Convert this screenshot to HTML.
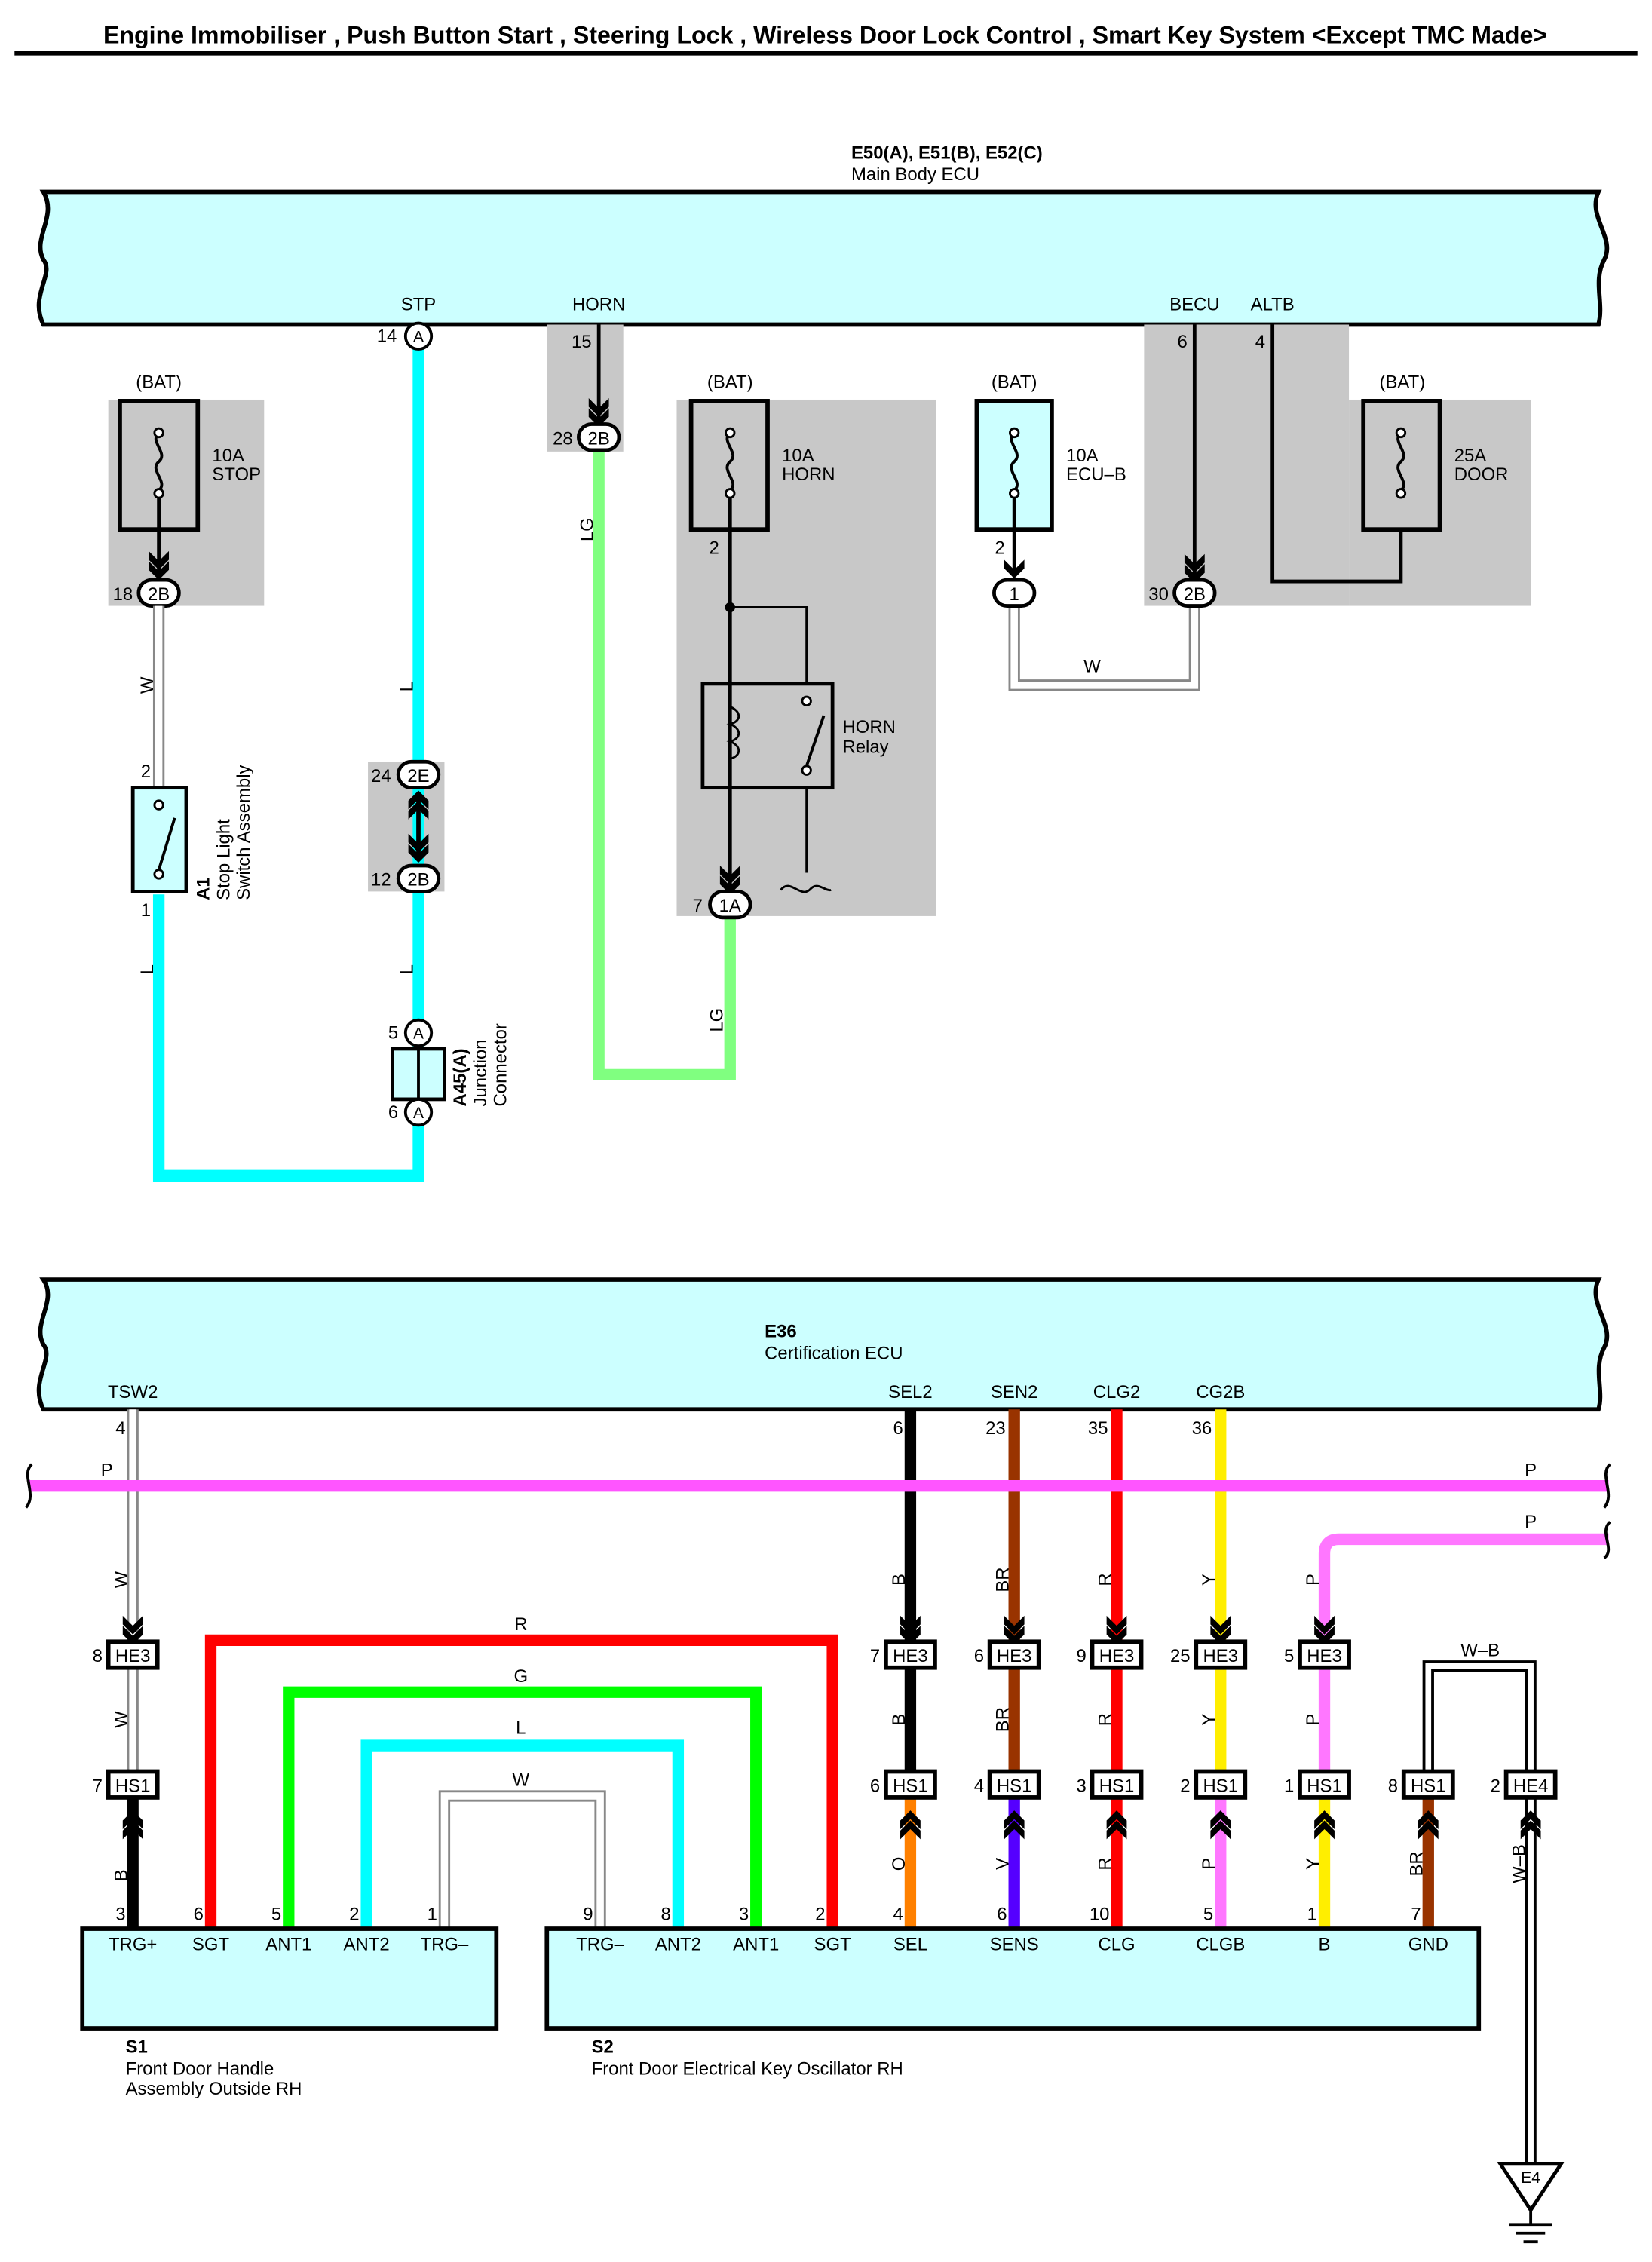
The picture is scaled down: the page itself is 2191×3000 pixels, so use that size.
<!DOCTYPE html>
<html><head><meta charset="utf-8"><style>
html,body{margin:0;padding:0;background:#fff}
svg{display:block}
text{font-family:"Liberation Sans",Arial,sans-serif;font-size:12.5px;fill:#000}
.b{font-weight:bold}
.c{text-anchor:middle}
.r{text-anchor:end}
</style></head><body>
<svg width="2191" height="3000" viewBox="0 0 1145 1568" xmlns="http://www.w3.org/2000/svg">
<defs>
<g id="chev"><path d="M-7,-12 L0,-5 L7,-12 L7,-6 L0,1 L-7,-6Z" fill="#000"/></g>
<g id="chev2"><path d="M-7,-16 L0,-9 L7,-16 L7,-10 L0,-3 L-7,-10Z M-7,-9 L0,-2 L7,-9 L7,-3 L0,4 L-7,-3Z" fill="#000"/></g>
<g id="chevup2"><path d="M-7,16 L0,9 L7,16 L7,10 L0,3 L-7,10Z M-7,9 L0,2 L7,9 L7,3 L0,-4 L-7,3Z" fill="#000"/></g>
<g id="fuse"><path d="M0,-22 C-7,-16 7,-8 0,-2 C-7,4 7,12 0,18" fill="none" stroke="#000" stroke-width="2"/><circle cx="0" cy="-22" r="3" fill="#fff" stroke="#000" stroke-width="1.5"/><circle cx="0" cy="20" r="3" fill="#fff" stroke="#000" stroke-width="1.5"/></g>
</defs>
<rect width="1145" height="1568" fill="#fff"/>
<text x="572" y="30" class="b c" style="font-size:16.8px">Engine Immobiliser , Push Button Start , Steering Lock , Wireless Door Lock Control , Smart Key System &lt;Except TMC Made&gt;</text>
<line x1="10" y1="37" x2="1135" y2="37" stroke="#000" stroke-width="3"/>

<text x="590" y="110" class="b">E50(A), E51(B), E52(C)</text>
<text x="590" y="125">Main Body ECU</text>
<path d="M30,133 L1108,133 C1100,150 1120,165 1112,180 C1104,195 1112,210 1108,225 L30,225 C20,205 38,190 30,180 C22,165 40,150 30,133Z" fill="#ccffff" stroke="#000" stroke-width="3"/>
<text x="290" y="215" class="c">STP</text>
<text x="415" y="215" class="c">HORN</text>
<text x="828" y="215" class="c">BECU</text>
<text x="882" y="215" class="c">ALTB</text>

<rect x="75" y="277" width="108" height="143" fill="#c8c8c8"/>
<rect x="255" y="528" width="53" height="90" fill="#c8c8c8"/>
<rect x="379" y="225" width="53" height="88" fill="#c8c8c8"/>
<rect x="469" y="277" width="180" height="358" fill="#c8c8c8"/>
<rect x="793" y="225" width="142" height="195" fill="#c8c8c8"/>
<rect x="935" y="277" width="126" height="143" fill="#c8c8c8"/>

<path d="M290,233 L290,815 L110,815 L110,620" fill="none" stroke="#00ffff" stroke-width="8"/>
<circle cx="290" cy="233" r="9" fill="#fff" stroke="#000" stroke-width="2"/><text x="290" y="237" class="c" style="font-size:11px">A</text>
<text x="275" y="237" class="r">14</text>
<text x="282" y="480" class="c" transform="rotate(-90 282 476)">L</text>
<rect x="276" y="528" width="28" height="18" rx="9" fill="#fff" stroke="#000" stroke-width="2.5"/><text x="290" y="542" class="c">2E</text><text x="271" y="542" class="r">24</text>
<rect x="276" y="600" width="28" height="18" rx="9" fill="#fff" stroke="#000" stroke-width="2.5"/><text x="290" y="614" class="c">2B</text><text x="271" y="614" class="r">12</text>
<line x1="290" y1="552" x2="290" y2="594" stroke="#000" stroke-width="3"/>
<use href="#chevup2" x="290" y="552"/><use href="#chev2" x="290" y="594"/>
<text x="282" y="676" class="c" transform="rotate(-90 282 672)">L</text>
<circle cx="290" cy="716" r="9" fill="#fff" stroke="#000" stroke-width="2"/><text x="290" y="720" class="c" style="font-size:11px">A</text><text x="276" y="720" class="r">5</text>
<rect x="272" y="727" width="36" height="35" fill="#ccffff" stroke="#000" stroke-width="2.5"/><line x1="290" y1="727" x2="290" y2="762" stroke="#000" stroke-width="2"/>
<circle cx="290" cy="771" r="9" fill="#fff" stroke="#000" stroke-width="2"/><text x="290" y="775" class="c" style="font-size:11px">A</text><text x="276" y="775" class="r">6</text>
<text transform="translate(323 767) rotate(-90)" class="b">A45(A)</text>
<text transform="translate(337 767) rotate(-90)">Junction</text>
<text transform="translate(351 767) rotate(-90)">Connector</text>

<text x="110" y="269" class="c">(BAT)</text>
<rect x="83" y="278" width="54" height="89" fill="none" stroke="#000" stroke-width="3"/>
<use href="#fuse" x="110" y="322"/>
<line x1="110" y1="345" x2="110" y2="400" stroke="#000" stroke-width="2.5"/><use href="#chev2" x="110" y="398"/>
<text x="147" y="320">10A</text><text x="147" y="333">STOP</text>
<rect x="96" y="402" width="28" height="18" rx="9" fill="#fff" stroke="#000" stroke-width="2.5"/><text x="110" y="416" class="c">2B</text><text x="92" y="416" class="r">18</text>
<line x1="110" y1="420" x2="110" y2="546" stroke="#888" stroke-width="8"/><line x1="110" y1="420" x2="110" y2="546" stroke="#fff" stroke-width="5"/>
<text x="102" y="479" class="c" transform="rotate(-90 102 475)">W</text>
<text x="101" y="539" class="c">2</text>
<rect x="92" y="546" width="37" height="72" fill="#ccffff" stroke="#000" stroke-width="2.5"/>
<circle cx="110" cy="558" r="3" fill="#fff" stroke="#000" stroke-width="1.5"/><circle cx="110" cy="606" r="3" fill="#fff" stroke="#000" stroke-width="1.5"/>
<line x1="110" y1="603" x2="121" y2="567" stroke="#000" stroke-width="2"/>
<text x="101" y="635" class="c">1</text>
<text x="102" y="676" class="c" transform="rotate(-90 102 672)">L</text>
<text transform="translate(145 624) rotate(-90)" class="b">A1</text>
<text transform="translate(159 624) rotate(-90)">Stop Light</text>
<text transform="translate(173 624) rotate(-90)">Switch Assembly</text>

<text x="410" y="241" class="r">15</text>
<line x1="415" y1="225" x2="415" y2="292" stroke="#000" stroke-width="2.5"/><use href="#chev2" x="415" y="292"/>
<path d="M415,312 L415,745 L506,745 L506,636" fill="none" stroke="#80ff80" stroke-width="8"/>
<rect x="401" y="294" width="28" height="18" rx="9" fill="#fff" stroke="#000" stroke-width="2.5"/><text x="415" y="308" class="c">2B</text><text x="397" y="308" class="r">28</text>
<text x="407" y="371" class="c" transform="rotate(-90 407 367)">LG</text>
<text x="497" y="711" class="c" transform="rotate(-90 497 707)">LG</text>
<text x="506" y="269" class="c">(BAT)</text>
<rect x="479" y="278" width="53" height="89" fill="none" stroke="#000" stroke-width="3"/>
<use href="#fuse" x="506" y="322"/>
<text x="542" y="320">10A</text><text x="542" y="333">HORN</text>
<text x="495" y="384" class="c">2</text>
<line x1="506" y1="345" x2="506" y2="616" stroke="#000" stroke-width="2.5"/>
<circle cx="506" cy="421" r="3.5" fill="#000"/>
<path d="M506,421 L559,421 L559,474 M559,546 L559,605" fill="none" stroke="#000" stroke-width="1.5"/>
<path d="M541,617 C548,608 555,624 562,616 C567,611 572,618 576,617" fill="none" stroke="#000" stroke-width="1.5"/>
<rect x="487" y="474" width="90" height="72" fill="none" stroke="#000" stroke-width="2.5"/>
<path d="M506,490 C514,493 514,500 506,502 C514,505 514,512 506,514 C514,517 514,524 506,526" fill="none" stroke="#000" stroke-width="1.5"/>
<circle cx="559" cy="534" r="3" fill="#fff" stroke="#000" stroke-width="1.5"/><circle cx="559" cy="486" r="3" fill="#fff" stroke="#000" stroke-width="1.5"/>
<line x1="559" y1="531" x2="571" y2="496" stroke="#000" stroke-width="2"/>
<text x="584" y="508">HORN</text><text x="584" y="522">Relay</text>
<use href="#chev2" x="506" y="616"/>
<rect x="492" y="618" width="28" height="18" rx="9" fill="#fff" stroke="#000" stroke-width="2.5"/><text x="506" y="632" class="c">1A</text><text x="487" y="632" class="r">7</text>

<text x="703" y="269" class="c">(BAT)</text>
<rect x="677" y="278" width="52" height="89" fill="#ccffff" stroke="#000" stroke-width="3"/>
<use href="#fuse" x="703" y="322"/>
<text x="739" y="320">10A</text><text x="739" y="333">ECU–B</text>
<text x="693" y="384" class="c">2</text>
<line x1="703" y1="345" x2="703" y2="400" stroke="#000" stroke-width="2.5"/><use href="#chev" x="703" y="400"/>
<path d="M703,420 L703,475 L828,475 L828,420" fill="none" stroke="#888" stroke-width="8"/>
<path d="M703,420 L703,475 L828,475 L828,420" fill="none" stroke="#fff" stroke-width="5"/>
<text x="757" y="466" class="c">W</text>
<rect x="689" y="402" width="28" height="18" rx="9" fill="#fff" stroke="#000" stroke-width="2.5"/><text x="703" y="416" class="c">1</text>
<text x="823" y="241" class="r">6</text>
<line x1="828" y1="225" x2="828" y2="400" stroke="#000" stroke-width="2.5"/><use href="#chev2" x="828" y="400"/>
<rect x="814" y="402" width="28" height="18" rx="9" fill="#fff" stroke="#000" stroke-width="2.5"/><text x="828" y="416" class="c">2B</text><text x="810" y="416" class="r">30</text>
<text x="877" y="241" class="r">4</text>
<path d="M882,225 L882,403 L971,403 L971,367" fill="none" stroke="#000" stroke-width="2.5"/>
<text x="972" y="269" class="c">(BAT)</text>
<rect x="945" y="278" width="53" height="89" fill="none" stroke="#000" stroke-width="3"/>
<use href="#fuse" x="971" y="322"/>
<text x="1008" y="320">25A</text><text x="1008" y="333">DOOR</text>

<path d="M30,887 L1108,887 C1100,904 1120,919 1112,934 C1104,949 1112,964 1108,977 L30,977 C20,957 38,942 30,932 C22,917 40,902 30,887Z" fill="#ccffff" stroke="#000" stroke-width="3"/>
<text x="530" y="927" class="b">E36</text>
<text x="530" y="942">Certification ECU</text>
<text x="92" y="969" class="c">TSW2</text>
<text x="631" y="969" class="c">SEL2</text>
<text x="703" y="969" class="c">SEN2</text>
<text x="774" y="969" class="c">CLG2</text>
<text x="846" y="969" class="c">CG2B</text>

<path d="M146,1337 L146,1137 L577,1137 L577,1337" fill="none" stroke="#ff0000" stroke-width="8"/>
<path d="M200,1337 L200,1173 L524,1173 L524,1337" fill="none" stroke="#00ff00" stroke-width="8"/>
<path d="M254,1337 L254,1210 L470,1210 L470,1337" fill="none" stroke="#00ffff" stroke-width="8"/>
<path d="M308,1337 L308,1245 L416,1245 L416,1337" fill="none" stroke="#888" stroke-width="8"/>
<path d="M308,1337 L308,1245 L416,1245 L416,1337" fill="none" stroke="#fff" stroke-width="5"/>
<text x="361" y="1130" class="c">R</text><text x="361" y="1166" class="c">G</text><text x="361" y="1202" class="c">L</text><text x="361" y="1238" class="c">W</text>

<line x1="92" y1="977" x2="92" y2="1237" stroke="#888" stroke-width="8"/><line x1="92" y1="977" x2="92" y2="1237" stroke="#fff" stroke-width="5"/>
<line x1="92" y1="1237" x2="92" y2="1337" stroke="#000" stroke-width="8"/>
<line x1="631" y1="977" x2="631" y2="1237" stroke="#000" stroke-width="8"/>
<line x1="631" y1="1237" x2="631" y2="1337" stroke="#ff8000" stroke-width="8"/>
<line x1="703" y1="977" x2="703" y2="1237" stroke="#993300" stroke-width="8"/>
<line x1="703" y1="1237" x2="703" y2="1337" stroke="#5500ff" stroke-width="8"/>
<line x1="774" y1="977" x2="774" y2="1337" stroke="#ff0000" stroke-width="8"/>
<line x1="846" y1="977" x2="846" y2="1237" stroke="#ffee00" stroke-width="8"/>
<line x1="846" y1="1237" x2="846" y2="1337" stroke="#ff77ff" stroke-width="8"/>
<path d="M1115,1067 L928,1067 Q918,1067 918,1077 L918,1237" fill="none" stroke="#ff77ff" stroke-width="8"/>
<line x1="918" y1="1237" x2="918" y2="1337" stroke="#ffee00" stroke-width="8"/>
<line x1="990" y1="1237" x2="990" y2="1337" stroke="#993300" stroke-width="8"/>
<path d="M990,1237 L990,1155 L1061,1155 L1061,1500" fill="none" stroke="#000" stroke-width="8"/>
<path d="M990,1237 L990,1155 L1061,1155 L1061,1500" fill="none" stroke="#fff" stroke-width="4"/>
<line x1="20" y1="1030" x2="1115" y2="1030" stroke="#ff55ff" stroke-width="8"/>
<path d="M22,1015 C14,1022 26,1036 18,1045" fill="none" stroke="#000" stroke-width="2"/>
<path d="M1116,1015 C1108,1022 1120,1036 1112,1045" fill="none" stroke="#000" stroke-width="2"/>
<path d="M1116,1055 C1108,1062 1120,1074 1112,1080" fill="none" stroke="#000" stroke-width="2"/>
<text x="74" y="1023" class="c">P</text><text x="1061" y="1023" class="c">P</text><text x="1061" y="1059" class="c">P</text>

<text x="87" y="994" class="r">4</text><text x="626" y="994" class="r">6</text><text x="697" y="994" class="r">23</text><text x="768" y="994" class="r">35</text><text x="840" y="994" class="r">36</text>

<g class="c">
<text x="84" y="1099" class="c" transform="rotate(-90 84 1095)">W</text>
<text x="623" y="1099" class="c" transform="rotate(-90 623 1095)">B</text>
<text x="695" y="1099" class="c" transform="rotate(-90 695 1095)">BR</text>
<text x="766" y="1099" class="c" transform="rotate(-90 766 1095)">R</text>
<text x="838" y="1099" class="c" transform="rotate(-90 838 1095)">Y</text>
<text x="910" y="1099" class="c" transform="rotate(-90 910 1095)">P</text>
<text x="84" y="1196" class="c" transform="rotate(-90 84 1192)">W</text>
<text x="623" y="1196" class="c" transform="rotate(-90 623 1192)">B</text>
<text x="695" y="1196" class="c" transform="rotate(-90 695 1192)">BR</text>
<text x="766" y="1196" class="c" transform="rotate(-90 766 1192)">R</text>
<text x="838" y="1196" class="c" transform="rotate(-90 838 1192)">Y</text>
<text x="910" y="1196" class="c" transform="rotate(-90 910 1192)">P</text>
<text x="84" y="1304" class="c" transform="rotate(-90 84 1300)">B</text>
<text x="623" y="1296" class="c" transform="rotate(-90 623 1292)">O</text>
<text x="695" y="1296" class="c" transform="rotate(-90 695 1292)">V</text>
<text x="766" y="1296" class="c" transform="rotate(-90 766 1292)">R</text>
<text x="838" y="1296" class="c" transform="rotate(-90 838 1292)">P</text>
<text x="910" y="1296" class="c" transform="rotate(-90 910 1292)">Y</text>
<text x="982" y="1296" class="c" transform="rotate(-90 982 1292)">BR</text>
<text x="1053" y="1296" class="c" transform="rotate(-90 1053 1292)">W–B</text>
</g>
<text x="1026" y="1148" class="c">W–B</text>

<use href="#chev2" x="92" y="1136"/><use href="#chev2" x="631" y="1136"/><use href="#chev2" x="703" y="1136"/><use href="#chev2" x="774" y="1136"/><use href="#chev2" x="846" y="1136"/><use href="#chev2" x="918" y="1136"/>
<use href="#chevup2" x="92" y="1259"/><use href="#chevup2" x="631" y="1259"/><use href="#chevup2" x="703" y="1259"/><use href="#chevup2" x="774" y="1259"/><use href="#chevup2" x="846" y="1259"/><use href="#chevup2" x="918" y="1259"/><use href="#chevup2" x="990" y="1259"/><use href="#chevup2" x="1061" y="1259"/>

<g stroke="#000" stroke-width="3" fill="#fff">
<rect x="75" y="1138" width="34" height="18"/><rect x="614" y="1138" width="34" height="18"/><rect x="686" y="1138" width="34" height="18"/><rect x="757" y="1138" width="34" height="18"/><rect x="829" y="1138" width="34" height="18"/><rect x="901" y="1138" width="34" height="18"/>
<rect x="75" y="1228" width="34" height="18"/><rect x="614" y="1228" width="34" height="18"/><rect x="686" y="1228" width="34" height="18"/><rect x="757" y="1228" width="34" height="18"/><rect x="829" y="1228" width="34" height="18"/><rect x="901" y="1228" width="34" height="18"/><rect x="973" y="1228" width="34" height="18"/><rect x="1044" y="1228" width="34" height="18"/>
</g>
<g style="font-size:12px">
<text x="92" y="1152" class="c">HE3</text><text x="631" y="1152" class="c">HE3</text><text x="703" y="1152" class="c">HE3</text><text x="774" y="1152" class="c">HE3</text><text x="846" y="1152" class="c">HE3</text><text x="918" y="1152" class="c">HE3</text>
<text x="92" y="1242" class="c">HS1</text><text x="631" y="1242" class="c">HS1</text><text x="703" y="1242" class="c">HS1</text><text x="774" y="1242" class="c">HS1</text><text x="846" y="1242" class="c">HS1</text><text x="918" y="1242" class="c">HS1</text><text x="990" y="1242" class="c">HS1</text><text x="1061" y="1242" class="c">HE4</text>
</g>
<text x="71" y="1152" class="r">8</text><text x="610" y="1152" class="r">7</text><text x="682" y="1152" class="r">6</text><text x="753" y="1152" class="r">9</text><text x="825" y="1152" class="r">25</text><text x="897" y="1152" class="r">5</text>
<text x="71" y="1242" class="r">7</text><text x="610" y="1242" class="r">6</text><text x="682" y="1242" class="r">4</text><text x="753" y="1242" class="r">3</text><text x="825" y="1242" class="r">2</text><text x="897" y="1242" class="r">1</text><text x="969" y="1242" class="r">8</text><text x="1040" y="1242" class="r">2</text>

<rect x="57" y="1337" width="287" height="69" fill="#ccffff" stroke="#000" stroke-width="3"/>
<rect x="379" y="1337" width="646" height="69" fill="#ccffff" stroke="#000" stroke-width="3"/>
<text x="87" y="1331" class="r">3</text><text x="141" y="1331" class="r">6</text><text x="195" y="1331" class="r">5</text><text x="249" y="1331" class="r">2</text><text x="303" y="1331" class="r">1</text>
<text x="411" y="1331" class="r">9</text><text x="465" y="1331" class="r">8</text><text x="519" y="1331" class="r">3</text><text x="572" y="1331" class="r">2</text><text x="626" y="1331" class="r">4</text><text x="698" y="1331" class="r">6</text><text x="769" y="1331" class="r">10</text><text x="841" y="1331" class="r">5</text><text x="913" y="1331" class="r">1</text><text x="985" y="1331" class="r">7</text>
<text x="92" y="1352" class="c">TRG+</text><text x="146" y="1352" class="c">SGT</text><text x="200" y="1352" class="c">ANT1</text><text x="254" y="1352" class="c">ANT2</text><text x="308" y="1352" class="c">TRG–</text>
<text x="416" y="1352" class="c">TRG–</text><text x="470" y="1352" class="c">ANT2</text><text x="524" y="1352" class="c">ANT1</text><text x="577" y="1352" class="c">SGT</text><text x="631" y="1352" class="c">SEL</text><text x="703" y="1352" class="c">SENS</text><text x="774" y="1352" class="c">CLG</text><text x="846" y="1352" class="c">CLGB</text><text x="918" y="1352" class="c">B</text><text x="990" y="1352" class="c">GND</text>
<text x="87" y="1423" class="b">S1</text><text x="87" y="1438">Front Door Handle</text><text x="87" y="1452">Assembly Outside RH</text>
<text x="410" y="1423" class="b">S2</text><text x="410" y="1438">Front Door Electrical Key Oscillator RH</text>

<path d="M1040,1500 L1082,1500 L1061,1532Z" fill="#fff" stroke="#000" stroke-width="2.5"/>
<text x="1061" y="1513" class="c" style="font-size:11px">E4</text>
<line x1="1061" y1="1532" x2="1061" y2="1542" stroke="#000" stroke-width="2"/>
<line x1="1046" y1="1542" x2="1076" y2="1542" stroke="#000" stroke-width="2"/>
<line x1="1051" y1="1548" x2="1071" y2="1548" stroke="#000" stroke-width="2"/>
<line x1="1056" y1="1554" x2="1066" y2="1554" stroke="#000" stroke-width="2"/>
</svg>
</body></html>
